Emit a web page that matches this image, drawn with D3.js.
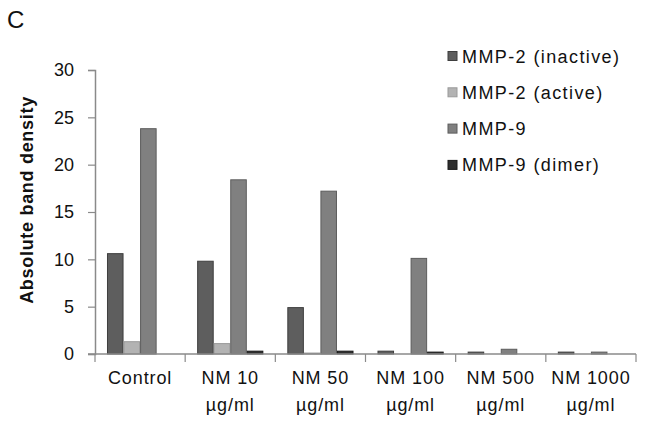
<!DOCTYPE html>
<html>
<head>
<meta charset="utf-8">
<script src="https://cdn.jsdelivr.net/npm/d3@7"></script>
<style>
  body { margin: 0; background: #fff; }
  text { font-family: "Liberation Sans", Arial, sans-serif; fill: #111; }
</style>
</head>
<body>
<div class="chart"></div>
<script>
// categories and series
var groups = ["Control", "NM 10|µg/ml", "NM 50|µg/ml", "NM 100|µg/ml", "NM 500|µg/ml", "NM 1000|µg/ml"];
var seriesNames = ["MMP-2 (inactive)", "MMP-2 (active)", "MMP-9", "MMP-9 (dimer)"];
var mmp2Inactive = [10.6, 9.8, 4.9, 0.3, 0.2, 0.2];
var mmp2Active   = [1.3, 1.1, 0.1, 0, 0, 0];
var mmp9         = [23.8, 18.4, 17.2, 10.1, 0.5, 0.2];
var mmp9Dimer    = [0, 0.3, 0.3, 0.2, 0, 0];
var yTicks = [0, 5, 10, 15, 20, 25, 30];

var fills   = ["#5e5e5e", "#b3b3b3", "#808080", "#2e2e2e"];
var strokes = ["#3e3e3e", "#9a9a9a", "#5c5c5c", "#1a1a1a"];

var W = 646, H = 423;
var margin = {top: 70, right: 10, bottom: 69, left: 95},
    width = 636 - margin.left,
    height = 354 - margin.top;

var svg = d3.select(".chart").append("svg")
    .attr("width", W)
    .attr("height", H);

var g = svg.append("g")
    .attr("transform", "translate(" + margin.left + "," + margin.top + ")");

var x0 = d3.scaleBand().domain(groups).range([0, width]).paddingInner(0.266).paddingOuter(0.133);
var x1 = d3.scaleBand().domain(seriesNames).range([0, x0.bandwidth()]);
var xEdge = d3.scaleLinear().domain([0, groups.length]).range([0, width]);
var y = d3.scaleLinear().domain([0, 30]).range([height, 0]);

var series = [mmp2Inactive, mmp2Active, mmp9, mmp9Dimer];
var rows = [];
groups.forEach(function (grp, i) {
    seriesNames.forEach(function (s, j) {
        rows.push({group: grp, series: s, j: j, value: series[j][i]});
    });
});

// bars
g.append("g").selectAll("rect")
    .data(rows.filter(function (d) { return d.value > 0; }))
    .enter()
    .append("rect")
    .attr("x", function (d) { return x0(d.group) + x1(d.series) + 0.5; })
    .attr("y", function (d) { return y(d.value); })
    .attr("width", x1.bandwidth() - 1)
    .attr("height", function (d) { return y(0) - y(d.value); })
    .attr("fill", function (d) { return fills[d.j]; })
    .attr("stroke", function (d) { return strokes[d.j]; })
    .attr("stroke-width", 1);

// y axis
var yAxis = g.append("g")
    .call(d3.axisLeft(y).tickValues(yTicks).tickSize(7).tickPadding(14));
yAxis.select(".domain").attr("stroke", "#8a8a8a").attr("stroke-width", 1.5);
yAxis.selectAll(".tick line").attr("stroke", "#8a8a8a").attr("stroke-width", 1.2);
yAxis.selectAll(".tick text")
    .style("font-size", "18px")
    .style("font-family", "Liberation Sans, Arial, sans-serif")
    .attr("fill", "#111");

// x axis: baseline with ticks between groups
var xg = g.append("g").attr("transform", "translate(0," + height + ")");
xg.append("line")
    .attr("x1", -7).attr("x2", width)
    .attr("stroke", "#8a8a8a").attr("stroke-width", 1.5);
xg.selectAll(".sep")
    .data(d3.range(groups.length + 1))
    .enter().append("line")
    .attr("x1", function (d) { return xEdge(d); })
    .attr("x2", function (d) { return xEdge(d); })
    .attr("y1", 0).attr("y2", 8)
    .attr("stroke", "#8a8a8a").attr("stroke-width", 1.2);

var lbl = xg.selectAll(".lbl")
    .data(groups)
    .enter().append("text")
    .attr("text-anchor", "middle")
    .style("font-size", "18px")
    .style("letter-spacing", "0.9px")
    .attr("transform", function (d) {
        return "translate(" + (x0(d) + x0.bandwidth() / 2) + ",0)";
    });
lbl.selectAll("tspan")
    .data(function (d) { return d.split("|"); })
    .enter().append("tspan")
    .attr("x", 0)
    .attr("y", function (d, i) { return 30 + i * 27; })
    .text(function (d) { return d; });

// y label
svg.append("text")
    .attr("transform", "translate(33,200) rotate(-90)")
    .attr("text-anchor", "middle")
    .style("font-size", "18px")
    .style("font-weight", "bold")
    .style("letter-spacing", "0.7px")
    .text("Absolute band density");

// panel letter
svg.append("text")
    .attr("x", 7).attr("y", 28)
    .style("font-size", "24px")
    .text("C");

// legend
var leg = svg.append("g").attr("transform", "translate(448,56)");
var li = leg.selectAll("g")
    .data(seriesNames)
    .enter().append("g")
    .attr("transform", function (d, i) { return "translate(0," + (i * 36.3) + ")"; });
li.append("rect")
    .attr("x", 0).attr("y", -4.5)
    .attr("width", 9).attr("height", 9)
    .attr("fill", function (d, i) { return fills[i]; })
    .attr("stroke", function (d, i) { return strokes[i]; });
li.append("text")
    .attr("x", 14).attr("y", 6.5)
    .style("font-size", "18px")
    .style("letter-spacing", "1.4px")
    .text(function (d) { return d; });
</script>
</body>
</html>
